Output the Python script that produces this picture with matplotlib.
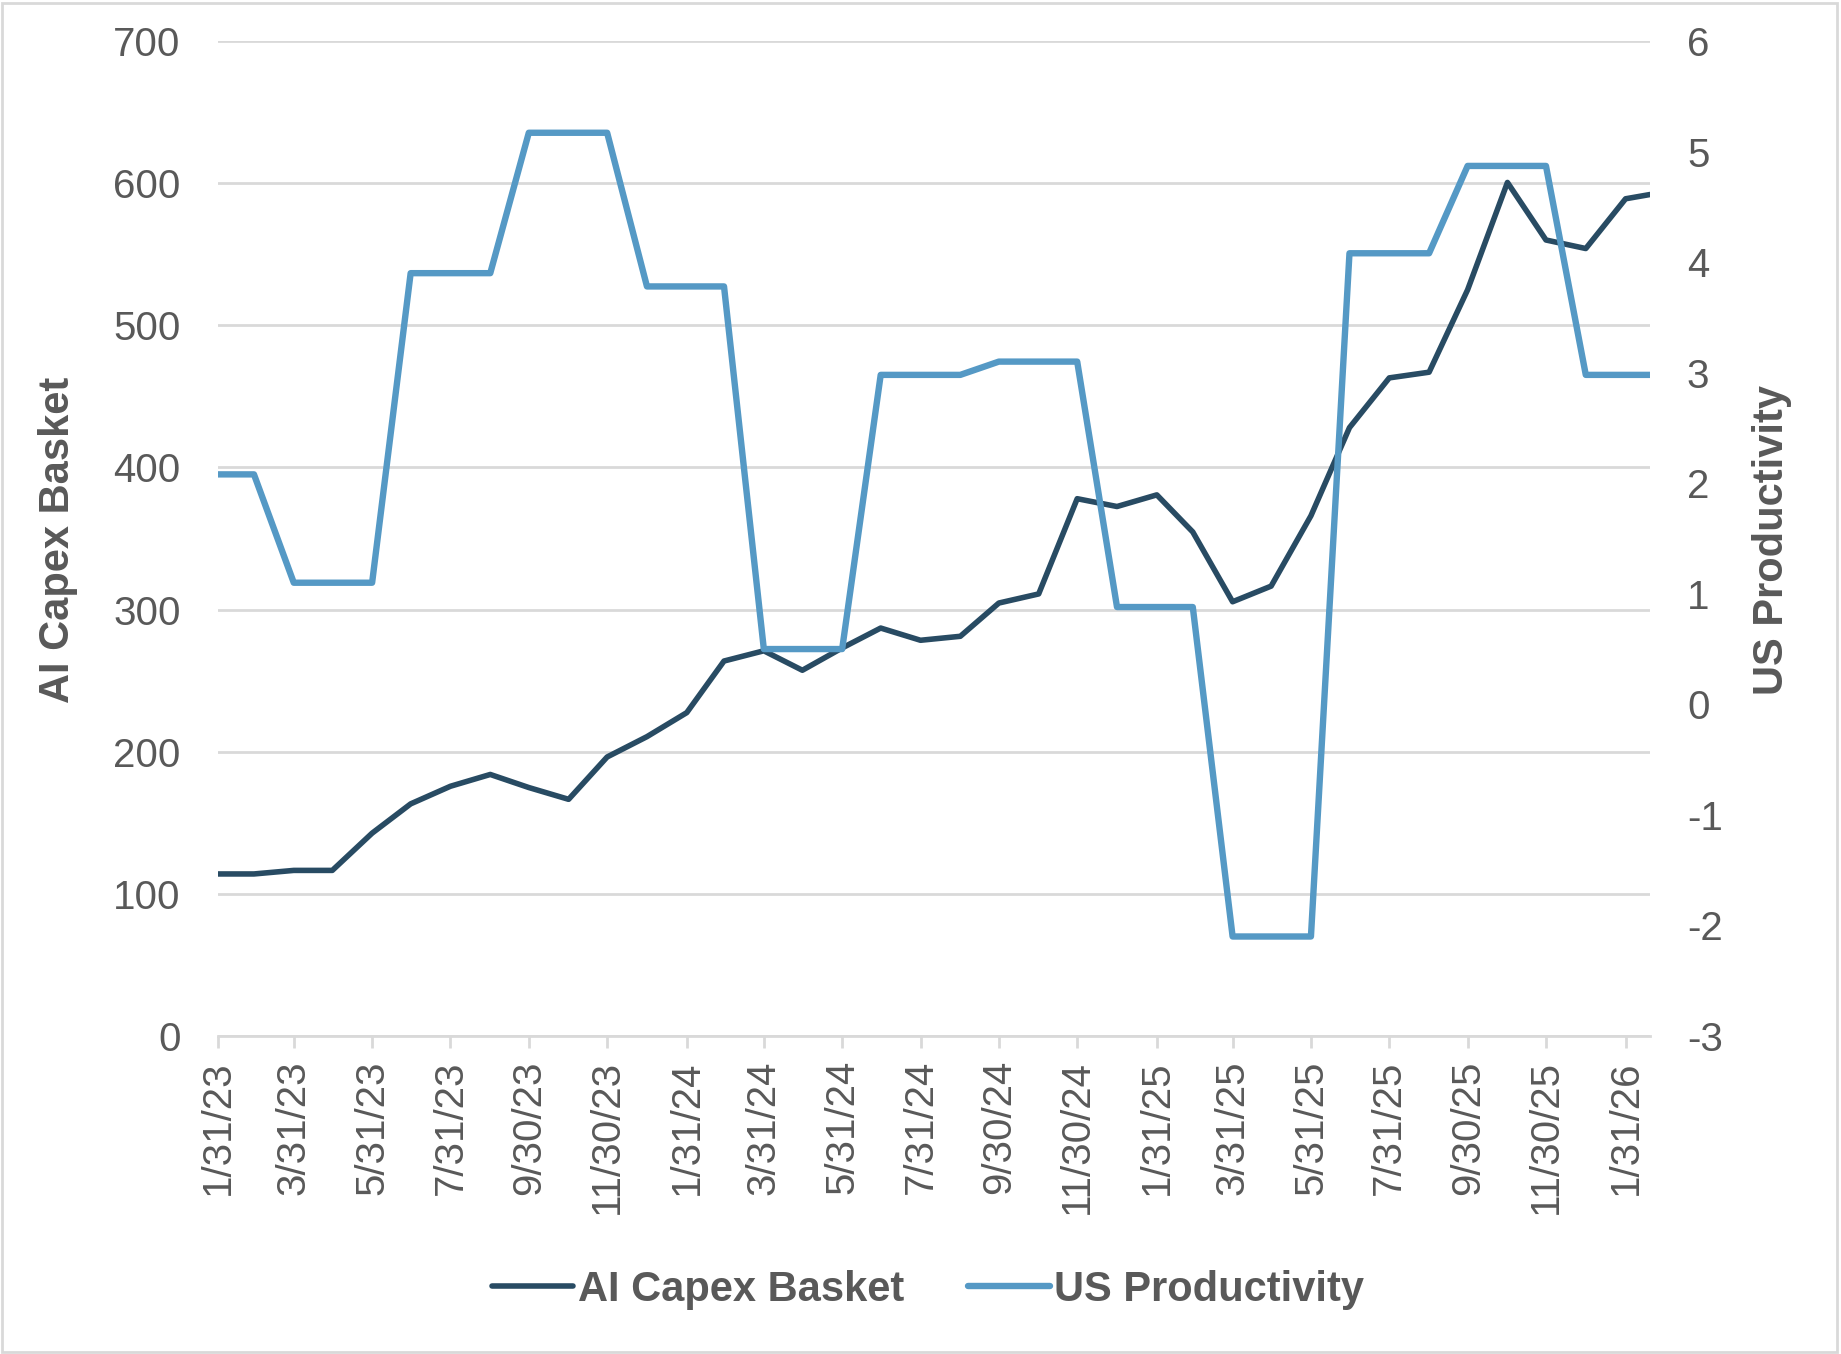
import matplotlib
matplotlib.use("Agg")
import matplotlib.pyplot as plt
import pandas as pd
from matplotlib.patches import Rectangle

# month-end observations, last one is a mid-February reading
dates = list(pd.date_range("2023-01-31", "2026-01-31", freq="ME")) + [pd.Timestamp("2026-02-19")]

ai_capex = [114, 114, 116.5, 116.5, 142.7, 163.3, 175.7, 184, 174.8, 166.5,
            196.3, 210.6, 227.5, 263.8, 271, 257.3, 273, 287, 278.4, 281.2,
            304.6, 311, 378, 372.5, 380.7, 354.6, 305.5, 316.5, 366, 428,
            463, 467, 525, 600.5, 560, 554, 589, 592]

us_productivity = [2.08, 2.08, 1.1, 1.1, 1.1, 3.9, 3.9, 3.9, 5.17, 5.17,
                   5.17, 3.78, 3.78, 3.78, 0.5, 0.5, 0.5, 2.98, 2.98, 2.98,
                   3.1, 3.1, 3.1, 0.88, 0.88, 0.88, -2.1, -2.1, -2.1, 4.08,
                   4.08, 4.08, 4.87, 4.87, 4.87, 2.98, 2.98, 2.98]

left_ticks = [0, 100, 200, 300, 400, 500, 600, 700]
right_ticks = [-3, -2, -1, 0, 1, 2, 3, 4, 5, 6]
tick_dates = dates[:37:2]
tick_labels = ["%d/%d/%d" % (d.month, d.day, d.year % 100) for d in tick_dates]

TXT = "#595959"
GRID = "#D9D9D9"
DARK = "#284B63"
LIGHT = "#5599C5"

plt.rcParams["font.family"] = ["Liberation Sans", "DejaVu Sans"]
plt.rcParams["axes.unicode_minus"] = False
FS = 14.5
FS_B = 15

fig = plt.figure(figsize=(1841 / 200, 1354 / 200), dpi=200)
ax = fig.add_axes([218 / 1841, 1 - 1036 / 1354, (1650 - 218) / 1841, (1036 - 41) / 1354])
ax2 = ax.twinx()

l1, = ax.plot(dates, ai_capex, color=DARK, lw=2.0, solid_joinstyle="round",
              solid_capstyle="round", label="AI Capex Basket")
l2, = ax2.plot(dates, us_productivity, color=LIGHT, lw=2.3, solid_joinstyle="round",
               solid_capstyle="round", label="US Productivity")

ax.set_ylim(0, 700)
ax.set_yticks(left_ticks)
ax2.set_ylim(-3, 6)
ax2.set_yticks(right_ticks)
ax.set_xlim(dates[0], dates[-1])
ax.set_xticks(tick_dates)
ax.set_xticklabels(tick_labels, rotation=90)

ax.grid(axis="y", color=GRID, lw=1.0)
ax.set_axisbelow(True)
for a in (ax, ax2):
    for s in a.spines.values():
        s.set_visible(False)
ax.spines["bottom"].set_visible(True)
ax.spines["bottom"].set_color(GRID)
ax.spines["bottom"].set_linewidth(1.0)

ax.tick_params(axis="x", colors=GRID, labelcolor=TXT, labelsize=FS,
               length=4.2, width=1.0, pad=4.5)
ax.tick_params(axis="y", length=0, labelcolor=TXT, labelsize=FS, pad=13.5)
ax2.tick_params(axis="y", length=0, labelcolor=TXT, labelsize=FS, pad=13.3)

fig.text(58 / 1841, 1 - 540 / 1354, "AI Capex Basket", rotation=90, ha="center",
         va="center", fontsize=FS_B, fontweight="bold", color=TXT)
fig.text(1772 / 1841, 1 - 540 / 1354, "US Productivity", rotation=90, ha="center",
         va="center", fontsize=FS_B, fontweight="bold", color=TXT)

leg = fig.legend([l1, l2], ["AI Capex Basket", "US Productivity"], loc="center",
                 bbox_to_anchor=(928 / 1841, 1 - 1290 / 1354), ncol=2, frameon=False,
                 handlelength=1.95, handletextpad=0.1, columnspacing=1.55,
                 prop={"size": FS_B, "weight": "bold"})
for t in leg.get_texts():
    t.set_color(TXT)

fig.patches.append(Rectangle((0.001, 0.0015), 0.997, 0.996, transform=fig.transFigure,
                             fill=False, edgecolor=GRID, lw=1.0))

fig.savefig("out.png", dpi=200, facecolor="white")
